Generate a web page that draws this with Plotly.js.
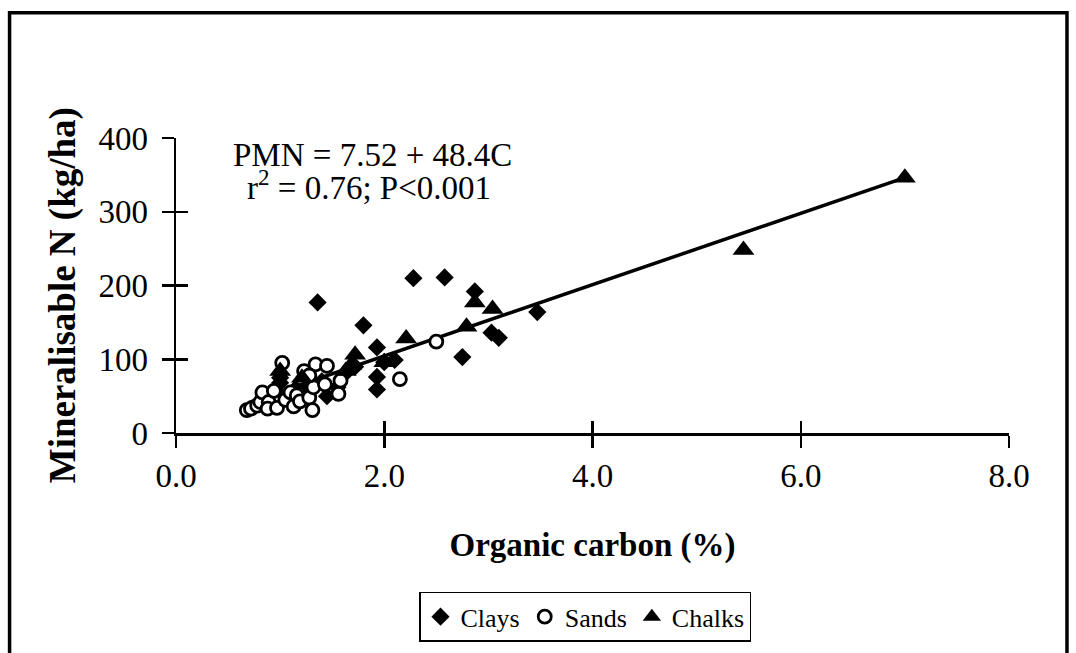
<!DOCTYPE html>
<html>
<head>
<meta charset="utf-8">
<script src="https://cdn.plot.ly/plotly-3.0.1.min.js"></script>
<style>
html,body{margin:0;padding:0;background:#fff;}
#chart{width:1076px;height:653px;}
</style>
</head>
<body>
<div id="chart"></div>
<script>
// ---- data ----
var claysX = [1.36, 1.80, 2.28, 2.58, 2.87, 3.47, 3.03, 3.10, 2.75, 1.93, 1.93, 1.93, 2.00, 2.10, 1.45, 1.62, 1.00, 1.00, 1.15, 1.25, 1.55, 1.72, 1.40, 1.10];
var claysY = [177, 146, 210, 211, 192, 164, 136, 129, 103, 116, 76, 59, 96, 99, 50, 80, 68, 75, 60, 58, 62, 90, 70, 45];

var sandsX = [0.68, 0.72, 0.78, 0.81, 0.83, 0.89, 0.88, 0.94, 0.97, 1.02, 1.05, 1.10, 1.13, 1.16, 1.19, 1.23, 1.28, 1.31, 1.34, 1.32, 1.28, 1.45, 1.43, 1.58, 1.56, 2.15, 2.50];
var sandsY = [31, 33, 37, 42, 55, 42, 33, 57, 34, 95, 45, 55, 36, 51, 43, 84, 48, 31, 93, 62, 78, 91, 66, 71, 53, 73, 124];

var chalksX = [7.00, 5.45, 3.04, 2.87, 2.79, 2.21, 1.72, 2.00, 1.63, 1.00, 1.21, 1.68];
var chalksY = [346, 248, 168, 177, 144, 128, 106, 96, 84, 84, 75, 92];

var fitX = [0.70, 7.00];
var fitY = [41.4, 346.3];

var xTickVals = [0, 2, 4, 6, 8];
var xTickText = ["0.0", "2.0", "4.0", "6.0", "8.0"];
var yTickVals = [0, 100, 200, 300, 400];
var yTickText = ["0", "100", "200", "300", "400"];

var xTitle = "Organic carbon (%)";
var yTitle = "Mineralisable N (kg/ha)";
var eqLine1 = "PMN = 7.52 + 48.4C";
var eqLine2 = "r<sup>2</sup> = 0.76; P&lt;0.001";

// ---- styling ----
var FONT = "Liberation Serif, Times New Roman, serif";

var traces = [
  {x: fitX, y: fitY, mode: "lines", type: "scatter", xaxis: "x", yaxis: "y",
   line: {color: "#000", width: 3.5}, showlegend: false, hoverinfo: "skip"},
  {x: claysX, y: claysY, name: "Clays", mode: "markers", type: "scatter", xaxis: "x2", yaxis: "y2",
   marker: {symbol: "diamond", size: 14, color: "#000", line: {width: 0}}},
  {x: sandsX, y: sandsY, name: "Sands", mode: "markers", type: "scatter", xaxis: "x2", yaxis: "y2",
   marker: {symbol: "circle", size: 13, color: "#fff", line: {color: "#000", width: 2.8}}},
  {x: chalksX, y: chalksY, name: "Chalks", mode: "markers", type: "scatter", xaxis: "x2", yaxis: "y2",
   marker: {symbol: "triangle-up", size: 19, color: "#000", line: {width: 0}}}
];

var axBase = {
  showgrid: false, zeroline: false, linecolor: "#000", linewidth: 2.5,
  tickcolor: "#000", tickwidth: 2.5, ticklen: 12, fixedrange: true
};

var layout = {
  width: 1076, height: 653,
  margin: {l: 176, r: 67, t: 138, b: 213},
  paper_bgcolor: "#fff", plot_bgcolor: "#fff",
  font: {family: FONT, color: "#000", size: 33},
  showlegend: true,
  xaxis: Object.assign({}, axBase, {
    range: [0, 8], tickvals: xTickVals, ticktext: xTickText, ticks: "outside",
    showline: true, tickfont: {family: FONT, size: 33, color: "#000"},
    title: {text: "<b>" + xTitle + "</b>", font: {family: FONT, size: 33, color: "#000"}, standoff: 40}
  }),
  yaxis: Object.assign({}, axBase, {
    range: [0, 400], tickvals: yTickVals, ticktext: yTickText, ticks: "outside",
    showline: true, tickfont: {family: FONT, size: 33, color: "#000"}, ticklabelstandoff: 7
  }),
  xaxis2: Object.assign({}, axBase, {
    range: [0, 8], overlaying: "x", anchor: "y2", side: "bottom", tickvals: xTickVals,
    ticks: "inside", showline: false, showticklabels: false
  }),
  yaxis2: Object.assign({}, axBase, {
    range: [0, 400], overlaying: "y", anchor: "x2", side: "left", tickvals: yTickVals,
    ticks: "inside", showline: false, showticklabels: false
  }),
  legend: {
    orientation: "h", x: 0.491, y: -0.623, xanchor: "center", yanchor: "middle",
    bordercolor: "#000", borderwidth: 1.5, bgcolor: "#fff",
    font: {family: FONT, size: 26, color: "#000"}, itemwidth: 30,
    traceorder: "normal"
  },
  annotations: [
    {x: -0.1363, y: 0.4685, xref: "paper", yref: "paper", text: "<b>" + yTitle + "</b>",
     textangle: -90, showarrow: false, xanchor: "center", yanchor: "middle",
     font: {family: FONT, size: 37, color: "#000"}},
    {x: 1.886, y: 377, xref: "x", yref: "y", text: eqLine1, showarrow: false,
     font: {family: FONT, size: 33, color: "#000"}},
    {x: 1.85, y: 336, xref: "x", yref: "y", text: eqLine2, showarrow: false,
     font: {family: FONT, size: 33, color: "#000"}}
  ],
  shapes: [
    {type: "rect", xref: "paper", yref: "paper", x0: -0.1998, x1: 1.0696, y0: -0.76, y1: 1.425,
     line: {color: "#000", width: 3.5}, fillcolor: "rgba(0,0,0,0)", layer: "below"}
  ]
};

Plotly.newPlot("chart", traces, layout, {displayModeBar: false, staticPlot: true});
</script>
</body>
</html>
